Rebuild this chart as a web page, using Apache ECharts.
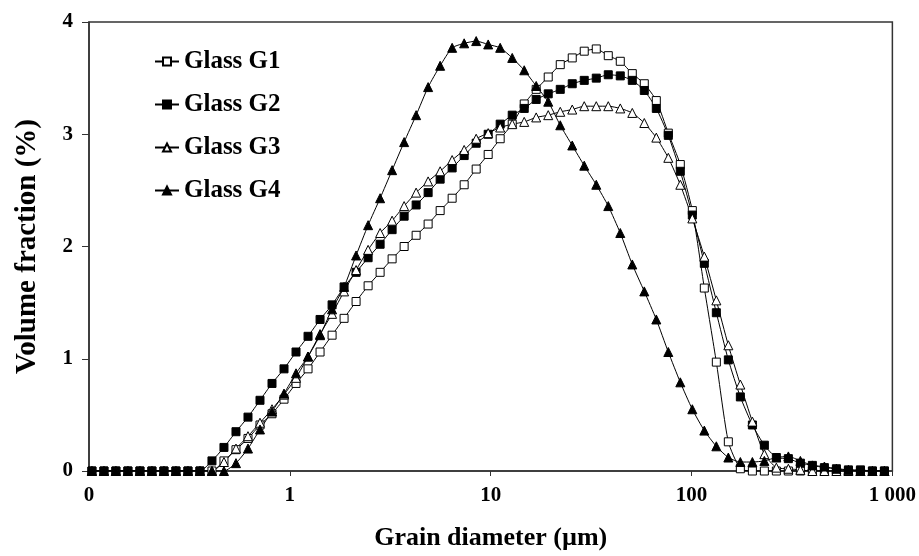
<!DOCTYPE html>
<html>
<head>
<meta charset="utf-8">
<script src="https://cdn.jsdelivr.net/npm/echarts@6/dist/echarts.min.js"></script>
<style>
html,body{margin:0;padding:0;background:#fff;}
#chart{width:919px;height:556px;}
</style>
</head>
<body>
<div id="chart"></div>
<script>
// Grain diameters (µm), log-spaced measurement bins
var diameters = [0.1034,0.1187,0.1361,0.1562,0.1793,0.2057,0.2361,0.2709,0.3109,0.3568,
  0.4095,0.4699,0.5393,0.6189,0.7102,0.8150,0.9354,1.0735,1.232,1.414,
  1.623,1.862,2.137,2.453,2.815,3.230,3.707,4.254,4.881,5.602,
  6.429,7.378,8.467,9.716,11.15,12.80,14.69,16.85,19.34,22.20,
  25.47,29.23,33.55,38.50,44.18,50.70,58.18,66.77,76.62,87.93,
  100.9,115.8,132.9,152.5,175.0,200.9,230.5,264.5,303.5,348.3,
  399.7,458.7,526.4,604.1,693.3,795.6,913.0];

var seriesNames = ["Glass G1","Glass G2","Glass G3","Glass G4"];

var g1 = [0,0,0,0,0,0,0,0,0,0,
  0,0.09,0.19,0.29,0.41,0.51,0.64,0.78,0.91,1.06,
  1.21,1.36,1.51,1.65,1.77,1.89,2.00,2.10,2.20,2.32,
  2.43,2.55,2.69,2.82,2.96,3.09,3.27,3.40,3.51,3.62,
  3.68,3.74,3.76,3.70,3.65,3.54,3.45,3.30,3.01,2.73,
  2.32,1.63,0.97,0.26,0.02,0,0,0,0,0,
  0,0,0,0,0,0,0];

var g2 = [0,0,0,0,0,0,0,0,0,0,
  0.09,0.21,0.35,0.48,0.63,0.78,0.91,1.06,1.20,1.35,
  1.48,1.64,1.77,1.90,2.02,2.15,2.27,2.37,2.48,2.60,
  2.70,2.81,2.92,3.00,3.09,3.17,3.23,3.31,3.36,3.40,
  3.45,3.48,3.50,3.53,3.52,3.48,3.39,3.23,2.99,2.67,
  2.28,1.85,1.41,0.99,0.66,0.41,0.23,0.12,0.11,0.07,
  0.05,0.03,0.02,0.01,0.01,0,0];

var g3 = [0,0,0,0,0,0,0,0,0,0,
  0,0.08,0.20,0.31,0.43,0.55,0.68,0.83,1.02,1.22,
  1.40,1.60,1.79,1.97,2.12,2.23,2.36,2.48,2.58,2.67,
  2.77,2.86,2.96,3.01,3.06,3.09,3.11,3.15,3.17,3.20,
  3.22,3.25,3.25,3.25,3.23,3.19,3.10,2.97,2.79,2.55,
  2.25,1.91,1.52,1.12,0.77,0.44,0.15,0.03,0.02,0.01,
  0,0,0,0,0,0,0];

var g4 = [0,0,0,0,0,0,0,0,0,0,
  0,0,0.07,0.20,0.37,0.53,0.69,0.87,1.02,1.21,
  1.44,1.64,1.92,2.19,2.43,2.68,2.93,3.17,3.42,3.61,
  3.77,3.81,3.83,3.80,3.77,3.68,3.57,3.43,3.29,3.08,
  2.90,2.72,2.55,2.36,2.12,1.84,1.60,1.35,1.06,0.79,
  0.55,0.36,0.22,0.12,0.08,0.08,0.09,0.12,0.13,0.09,
  0.05,0.04,0.02,0.01,0,0,0];

var xTickLabels = {"0.1":"0","1":"1","10":"10","100":"100","1000":"1 000"};
var yTickLabels = ["0","1","2","3","4"];

var FONT = '"Liberation Serif","Times New Roman",serif';

function pairs(vals){
  return diameters.map(function(d,i){ return [d, vals[i]]; });
}

var markerStyles = [
  {symbol:'rect', size:8, fill:'#ffffff'},
  {symbol:'rect', size:8, fill:'#000000'},
  {symbol:'triangle', size:9, fill:'#ffffff'},
  {symbol:'triangle', size:9, fill:'#000000'}
];
var allValues = [g1,g2,g3,g4];

var series = seriesNames.map(function(name, i){
  var m = markerStyles[i];
  return {
    name: name,
    type: 'line',
    data: pairs(allValues[i]),
    smooth: 0.2,
    symbol: m.symbol,
    symbolSize: m.size,
    showSymbol: true,
    lineStyle: {color:'#000', width:1},
    itemStyle: {color: m.fill, borderColor:'#000', borderWidth:1},
    emphasis: {disabled:true},
    animation: false
  };
});

var chart = echarts.init(document.getElementById('chart'), null, {renderer:'canvas'});
chart.setOption({
  backgroundColor:'#ffffff',
  animation:false,
  grid:{left:89, right:26, top:22, bottom:82, show:true, borderColor:'#333', borderWidth:1.5, backgroundColor:'transparent'},
  legend:{
    data: seriesNames,
    orient:'vertical',
    left:149, top:44,
    itemWidth:24, itemHeight:10, itemGap:18,
    textStyle:{fontFamily:FONT, fontWeight:'bold', fontSize:25, color:'#000', lineHeight:25}
  },
  xAxis:{
    type:'log', logBase:10, min:0.1, max:1000,
    name:'Grain diameter (µm)', nameLocation:'middle', nameGap:54,
    nameTextStyle:{fontFamily:FONT, fontWeight:'bold', fontSize:26, color:'#000'},
    axisLine:{show:true, lineStyle:{color:'#333', width:1.5}},
    axisTick:{show:true, inside:false, length:5, lineStyle:{color:'#333'}},
    minorTick:{show:false},
    splitLine:{show:false},
    axisLabel:{fontFamily:FONT, fontWeight:'bold', fontSize:21, color:'#000', margin:14,
      formatter:function(v){ var k = String(+v.toPrecision(6)); return xTickLabels[k] !== undefined ? xTickLabels[k] : ''; }}
  },
  yAxis:{
    type:'value', min:0, max:4, interval:1,
    name:'Volume fraction (%)', nameLocation:'middle', nameGap:47, nameRotate:90,
    nameTextStyle:{fontFamily:FONT, fontWeight:'bold', fontSize:29, color:'#000'},
    axisLine:{show:true, lineStyle:{color:'#333', width:1.5}},
    axisTick:{show:true, inside:false, length:7, lineStyle:{color:'#333'}},
    splitLine:{show:false},
    axisLabel:{fontFamily:FONT, fontWeight:'bold', fontSize:21, color:'#000', margin:16,
      formatter:function(v){ return yTickLabels[Math.round(v)]; }}
  },
  series: series
});
</script>
</body>
</html>
